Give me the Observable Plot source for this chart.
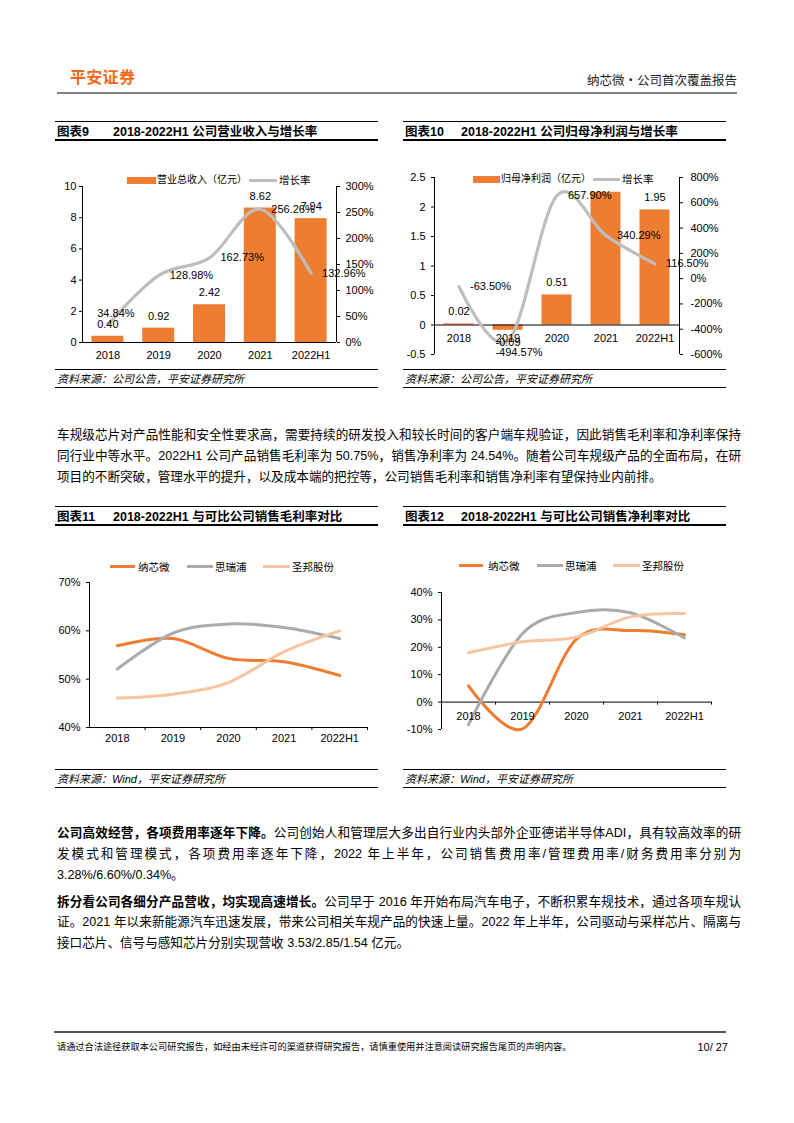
<!DOCTYPE html>
<html lang="zh-CN"><head><meta charset="utf-8">
<script src="https://cdn.jsdelivr.net/npm/d3@7"></script>
<script src="https://cdn.jsdelivr.net/npm/@observablehq/plot@0.6"></script>
<style>
html,body{margin:0;padding:0;background:#fff;}
#page{position:relative;width:794px;height:1123px;overflow:hidden;background:#fff;font-family:"Liberation Sans","Noto Sans CJK SC",sans-serif;color:#000;}
#page svg{overflow:visible;}
</style></head><body><div id="page"></div>
<script>
// ---------- data ----------
const years = ["2018", "2019", "2020", "2021", "2022H1"];
const revenue = [0.40, 0.92, 2.42, 8.62, 7.94];
const revenueGrowth = [34.84, 128.98, 162.73, 256.26, 132.96];
const revenueTicks = [0, 2, 4, 6, 8, 10];
const revenueGrowthTicks = [0, 50, 100, 150, 200, 250, 300];
const netProfit = [0.02, -0.09, 0.51, 2.25, 1.95];
const netProfitGrowth = [-63.50, -494.57, 657.90, 340.29, 116.50];
const netProfitTicks = [-0.5, 0, 0.5, 1, 1.5, 2, 2.5];
const netProfitGrowthTicks = [-600, -400, -200, 0, 200, 400, 600, 800];
const companies = ["纳芯微", "思瑞浦", "圣邦股份"];
const grossNovosense = [56.9, 58.4, 54.3, 53.6, 50.75];
const gross3Peak = [52.1, 59.5, 61.4, 60.7, 58.4];
const grossSGMicro = [46.1, 46.9, 49.3, 55.7, 60.0];
const grossTicks = [40, 50, 60, 70];
const netNovosense = [5.9, -9.8, 23.0, 26.1, 24.54];
const net3Peak = [-8.2, 25.0, 32.7, 32.6, 23.4];
const netSGMicro = [18.0, 22.0, 23.7, 31.1, 32.3];
const netTicks = [-10, 0, 10, 20, 30, 40];

// ---------- styles ----------
const ORANGE = "#ED7D31", GROWTH_GRAY = "#BEBEBE", GRAY = "#ABABAB", PEACH = "#F8C4A0";
const FONT = '"Liberation Sans","Noto Sans CJK SC",sans-serif';
const chartStyle = {fontFamily: FONT, fontSize: "11px", color: "#000", background: "transparent", overflow: "visible"};

const page = document.getElementById("page");
function add(css, html) {
  const d = document.createElement("div");
  d.style.cssText = "position:absolute;" + css;
  if (html != null) d.innerHTML = html;
  page.appendChild(d);
  return d;
}
function text(x, yc, s, css = "") {
  return add(`left:${x}px;top:${yc - 10}px;height:20px;line-height:20px;white-space:nowrap;${css}`, s);
}
function textR(xr, yc, s, css = "") {
  return add(`right:${794 - xr}px;top:${yc - 10}px;height:20px;line-height:20px;white-space:nowrap;${css}`, s);
}
function hline(x0, x1, y, th, color) {
  return add(`left:${x0}px;top:${y - th / 2}px;width:${x1 - x0}px;height:${th}px;background:${color};`);
}
function box(x, y, w, h, color) {
  return add(`left:${x}px;top:${y}px;width:${w}px;height:${h}px;background:${color};`);
}
function mount(x, y, svg) {
  const d = add(`left:${x}px;top:${y}px;`);
  d.appendChild(svg);
}
function pline(yc, html, last) {
  add(`left:57px;top:${yc - 10}px;width:684px;height:20px;line-height:20px;font-size:12.6px;white-space:nowrap;` +
      `text-align:${last ? "left" : "justify"};text-align-last:${last ? "left" : "justify"};`, html);
}
function titleBlock(x0, x1, yTop, yBot, label, title) {
  hline(x0, x1, yTop, 1.3, "#000");
  hline(x0, x1, yBot, 1.3, "#000");
  const yc = (yTop + yBot) / 2 + 1;
  text(x0 + 2, yc, label, "font-size:12.5px;font-weight:bold;");
  text(x0 + 58, yc, title, "font-size:12.5px;font-weight:bold;");
}
function sourceBlock(x0, x1, yTop, yBot, s) {
  hline(x0, x1, yTop, 1, "#000");
  hline(x0, x1, yBot, 1, "#000");
  text(x0 + 2, (yTop + yBot) / 2 + 0.5, s, "font-size:11px;font-style:italic;");
}

// ---------- header ----------
text(70, 78, "平安证券", "font-size:16px;font-weight:bold;color:#EF6A20;letter-spacing:0.3px;");
textR(737, 81, "纳芯微・公司首次覆盖报告", "font-size:12.5px;color:#222;");
hline(57, 737, 92.5, 2, "#808080");

// ---------- chart 9 ----------
titleBlock(55, 378, 121.5, 140, "图表9", "2018-2022H1 公司营业收入与增长率");
const c9 = years.map((c, i) => ({i, c, v: revenue[i], g: revenueGrowth[i]}));
const g9 = p => p / 300 * 10;
mount(50, 165, Plot.plot({
  width: 340, height: 200, marginLeft: 32, marginRight: 54, marginTop: 21, marginBottom: 23,
  style: chartStyle,
  x: {type: "linear", domain: [-0.5, 4.5], axis: null},
  y: {domain: [0, 10]},
  marks: [
    Plot.rectY(c9, {x1: d => d.i - 0.315, x2: d => d.i + 0.315, y1: () => 0, y2: "v", fill: ORANGE}),
    Plot.ruleY([0], {stroke: "#000"}),
    Plot.ruleX([-0.5], {stroke: "#000"}),
    Plot.ruleX([4.5], {stroke: "#000"}),
    Plot.axisY({anchor: "left", ticks: revenueTicks, tickFormat: d => String(d), tickSize: 3, tickPadding: 3, label: null}),
    Plot.axisY({anchor: "right", ticks: revenueGrowthTicks.map(g9), tickFormat: d => Math.round(d * 30) + "%", tickSize: 3, tickPadding: 6, label: null}),
    Plot.line(c9, {x: "i", y: d => g9(d.g), curve: "cardinal", stroke: GROWTH_GRAY, strokeWidth: 3.2}),
    Plot.text(c9, {x: "i", y: () => 0, text: "c", dy: 13}),
    Plot.text(c9, {x: "i", y: "v", text: d => d.v.toFixed(2), dy: -12}),
    Plot.text(c9, {filter: d => d.i === 0, x: "i", y: d => g9(d.g), text: d => d.g.toFixed(2) + "%", dx: 8, dy: -11}),
    Plot.text(c9, {filter: d => d.i > 0, x: "i", y: d => g9(d.g), text: d => d.g.toFixed(2) + "%", textAnchor: "start", dx: 11})
  ]
}));
box(127, 176.5, 29, 7, ORANGE);
text(157, 180, "营业总收入（亿元）", "font-size:10px;");
box(249, 178.5, 28, 3, GROWTH_GRAY);
text(279, 180, "增长率", "font-size:10.5px;");
sourceBlock(55, 378, 369, 387, "资料来源：公司公告，平安证券研究所");

// ---------- chart 10 ----------
titleBlock(403, 726, 121.5, 140, "图表10", "2018-2022H1 公司归母净利润与增长率");
const c10 = years.map((c, i) => ({i, c, v: netProfit[i], g: netProfitGrowth[i]}));
const g10 = p => (p + 600) * 3 / 1400 - 0.5;
mount(400, 165, Plot.plot({
  width: 345, height: 200, marginLeft: 34, marginRight: 66, marginTop: 12, marginBottom: 11,
  style: chartStyle,
  x: {type: "linear", domain: [-0.5, 4.5], axis: null},
  y: {domain: [-0.5, 2.5]},
  marks: [
    Plot.rectY(c10, {x1: d => d.i - 0.306, x2: d => d.i + 0.306, y1: () => 0, y2: "v", fill: ORANGE}),
    Plot.ruleY([0], {stroke: "#000"}),
    Plot.ruleX([-0.5], {stroke: "#000"}),
    Plot.ruleX([4.5], {stroke: "#000"}),
    Plot.axisY({anchor: "left", ticks: netProfitTicks, tickFormat: d => String(d), tickSize: 3, tickPadding: 6, label: null}),
    Plot.axisY({anchor: "right", ticks: netProfitGrowthTicks.map(g10), tickFormat: d => Math.round((d + 0.5) * 1400 / 3 - 600) + "%", tickSize: 3, tickPadding: 8, label: null}),
    Plot.line(c10, {x: "i", y: d => g10(d.g), curve: "cardinal", stroke: GROWTH_GRAY, strokeWidth: 3.2}),
    Plot.text(c10, {x: "i", y: () => 0, text: "c", dy: 13}),
    Plot.text(c10, {filter: d => d.v >= 0, x: "i", y: "v", text: d => d.v.toFixed(2), dy: -12}),
    Plot.text(c10, {filter: d => d.v < 0, x: "i", y: "v", text: d => d.v.toFixed(2), dy: 12}),
    Plot.text(c10, {filter: d => d.i === 1, x: "i", y: d => g10(d.g), text: d => d.g.toFixed(2) + "%", dx: 11, dy: 11}),
    Plot.text(c10, {filter: d => d.i !== 1, x: "i", y: d => g10(d.g), text: d => d.g.toFixed(2) + "%", textAnchor: "start", dx: 11})
  ]
}));
box(468, 171, 190, 16, "#fff");
box(473, 175.5, 27, 7.5, ORANGE);
text(501, 179, "归母净利润（亿元）", "font-size:10px;");
box(593, 177.5, 27, 3, GROWTH_GRAY);
text(622, 179, "增长率", "font-size:10.5px;");
sourceBlock(403, 726, 369, 387, "资料来源：公司公告，平安证券研究所");

// ---------- paragraph 1 ----------
pline(435, "车规级芯片对产品性能和安全性要求高，需要持续的研发投入和较长时间的客户端车规验证，因此销售毛利率和净利率保持");
pline(456, "同行业中等水平。2022H1 公司产品销售毛利率为 50.75%，销售净利率为 24.54%。随着公司车规级产品的全面布局，在研");
pline(477, "项目的不断突破，管理水平的提升，以及成本端的把控等，公司销售毛利率和销售净利率有望保持业内前排。", true);

// ---------- chart 11 ----------
titleBlock(55, 378, 506.5, 525, "图表11", "2018-2022H1 与可比公司销售毛利率对比");
const bounds = [0.5, 1.5, 2.5, 3.5, 4.5];
const xl = years.map((c, i) => ({i, c}));
const s11 = [grossNovosense, gross3Peak, grossSGMicro].map(arr => years.map((c, i) => ({i, v: arr[i]})));
const colors = [ORANGE, GRAY, PEACH];
mount(50, 545, Plot.plot({
  width: 340, height: 210, marginLeft: 39, marginRight: 23, marginTop: 37, marginBottom: 28,
  style: chartStyle,
  x: {type: "linear", domain: [-0.5, 4.5], axis: null},
  y: {domain: [40, 70]},
  marks: [
    Plot.ruleX([-0.5], {stroke: "#000"}),
    Plot.ruleY([40], {stroke: "#000"}),
    Plot.ruleX(bounds, {x: d => d, y1: () => 40, y2: () => 40, insetBottom: -3, stroke: "#000"}),
    Plot.axisY({anchor: "left", ticks: grossTicks, tickFormat: d => d + "%", tickSize: 3, tickPadding: 6, label: null}),
    ...s11.map((s, k) => Plot.line(s, {x: "i", y: "v", curve: "cardinal", stroke: colors[k], strokeWidth: 3})),
    Plot.text(xl, {x: "i", y: () => 40, text: "c", dy: 11})
  ]
}));
box(110, 565.2, 25, 3, ORANGE); text(138, 566.7, companies[0], "font-size:10.5px;");
box(187, 565.2, 26, 3, GRAY); text(215, 566.7, companies[1], "font-size:10.5px;");
box(263, 565.2, 27, 3, PEACH); text(292, 566.7, companies[2], "font-size:10.5px;");
sourceBlock(55, 378, 769.5, 787.5, "资料来源：Wind，平安证券研究所");

// ---------- chart 12 ----------
titleBlock(403, 726, 506.5, 525, "图表12", "2018-2022H1 与可比公司销售净利率对比");
const s12 = [netNovosense, net3Peak, netSGMicro].map(arr => years.map((c, i) => ({i, v: arr[i]})));
mount(400, 545, Plot.plot({
  width: 340, height: 210, marginLeft: 41, marginRight: 29, marginTop: 47, marginBottom: 26,
  style: chartStyle,
  x: {type: "linear", domain: [-0.5, 4.5], axis: null},
  y: {domain: [-10, 40]},
  marks: [
    Plot.ruleX([-0.5], {stroke: "#000"}),
    Plot.ruleY([0], {stroke: "#000"}),
    Plot.ruleX(bounds, {x: d => d, y1: () => 0, y2: () => 0, insetBottom: -3, stroke: "#000"}),
    Plot.axisY({anchor: "left", ticks: netTicks, tickFormat: d => d + "%", tickSize: 3, tickPadding: 6, label: null}),
    ...s12.map((s, k) => Plot.line(s, {x: "i", y: "v", curve: "cardinal", stroke: colors[k], strokeWidth: 3})),
    Plot.text(xl, {x: "i", y: () => 0, text: "c", dy: 14})
  ]
}));
box(459, 564.2, 24, 3, ORANGE); text(488, 565.7, companies[0], "font-size:10.5px;");
box(537, 564.2, 26, 3, GRAY); text(565, 565.7, companies[1], "font-size:10.5px;");
box(613, 564.2, 27, 3, PEACH); text(642, 565.7, companies[2], "font-size:10.5px;");
sourceBlock(403, 726, 769.5, 787.5, "资料来源：Wind，平安证券研究所");

// ---------- paragraphs 2 & 3 ----------
pline(833, "<b>公司高效经营，各项费用率逐年下降。</b>公司创始人和管理层大多出自行业内头部外企亚德诺半导体ADI，具有较高效率的研");
pline(854, "发模式和管理模式，各项费用率逐年下降，2022 年上半年，公司销售费用率/管理费用率/财务费用率分别为");
pline(875, "3.28%/6.60%/0.34%。", true);
pline(902, "<b>拆分看公司各细分产品营收，均实现高速增长。</b>公司早于 2016 年开始布局汽车电子，不断积累车规技术，通过各项车规认");
pline(922, "证。2021 年以来新能源汽车迅速发展，带来公司相关车规产品的快速上量。2022 年上半年，公司驱动与采样芯片、隔离与");
pline(943, "接口芯片、信号与感知芯片分别实现营收 3.53/2.85/1.54 亿元。", true);

// ---------- footer ----------
hline(54, 726, 1031.5, 2, "#555");
text(57, 1047, "请通过合法途径获取本公司研究报告，如经由未经许可的渠道获得研究报告，请慎重使用并注意阅读研究报告尾页的声明内容。", "font-size:9.2px;");
textR(728, 1047, "10/ 27", "font-size:11px;");
</script></body></html>
